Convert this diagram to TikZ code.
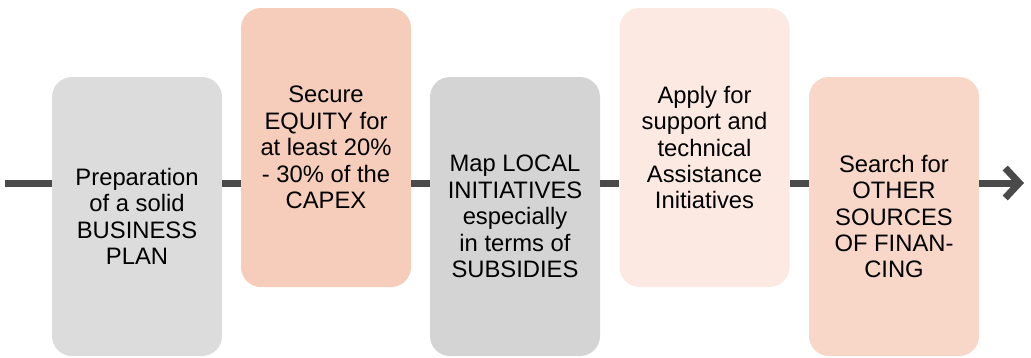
\documentclass[tikz,border=0pt]{standalone}
\usepackage{fontspec}
\setmainfont{Liberation Sans}
\usetikzlibrary{arrows.meta}
\definecolor{greyA}{RGB}{220,220,220}
\definecolor{greyB}{RGB}{212,212,212}
\definecolor{salmon}{RGB}{245,205,186}
\definecolor{blush}{RGB}{251,233,226}
\definecolor{peach}{RGB}{248,215,200}
\definecolor{flow}{RGB}{74,74,74}
\tikzset{
  stepbox/.style={rectangle, rounded corners=20pt, draw=none,
    minimum width=170pt, minimum height=279pt, inner sep=0pt,
    align=center, text=black, font=\fontsize{23.8}{26.4}\selectfont},
  flowline/.style={draw=flow, line width=7pt},
}
\begin{document}
\begin{tikzpicture}[x=1pt, y=-1pt]
  \useasboundingbox (0,0) rectangle (1031,357);
  % process line anchors
  \coordinate (start) at (5,183);
  \coordinate (finish) at (1024,183);
  % the five steps
  \node[stepbox, fill=greyA]  (b1) at (137,216.5) {Preparation\\of a solid\\BUSINESS\\PLAN};
  \node[stepbox, fill=salmon] (b2) at (326,147.5) {Secure\\EQUITY for\\at least 20\%\\- 30\% of the\\CAPEX};
  \node[stepbox, fill=greyB]  (b3) at (515,216.5) {Map LOCAL\\INITIATIVES\\especially\\in terms of\\SUBSIDIES};
  \node[stepbox, fill=blush]  (b4) at (704.5,147.5) {Apply for\\support and\\technical\\Assistance\\Initiatives};
  \node[stepbox, fill=peach]  (b5) at (894,216.5) {Search for\\OTHER\\SOURCES\\OF FINAN-\\CING};
  % connectors between the steps
  \draw[flowline] (start) -- (b1.west |- start);
  \draw[flowline] (b1.east |- start) -- (b2.west |- start);
  \draw[flowline] (b2.east |- start) -- (b3.west |- start);
  \draw[flowline] (b3.east |- start) -- (b4.west |- start);
  \draw[flowline] (b4.east |- start) -- (b5.west |- start);
  \draw[flowline, -{Straight Barb[length=14pt, width=30pt]}] (b5.east |- start) -- (finish);
\end{tikzpicture}
\end{document}
